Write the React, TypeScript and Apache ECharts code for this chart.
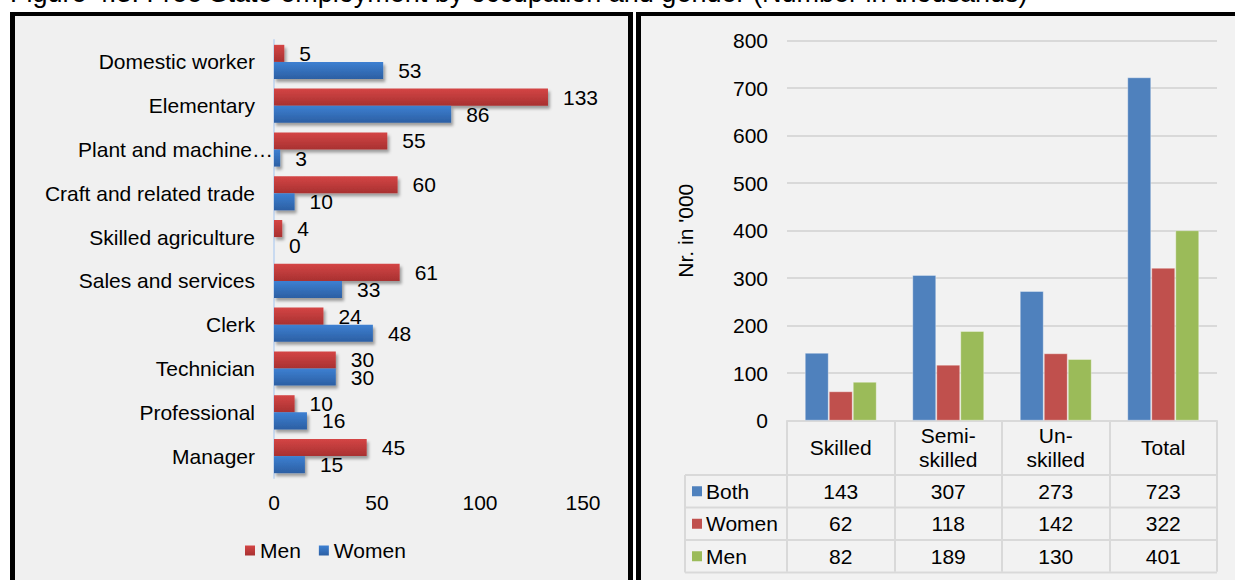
import React, { useEffect, useRef } from "react";
import * as echarts from "echarts";

const FONT = "'Liberation Sans', Arial, Helvetica, sans-serif";

const titleText = "Figure 4.3: Free State employment by occupation and gender (Number in thousands)";

// Left chart (top to bottom as shown)
const occupations = [
  "Domestic worker",
  "Elementary",
  "Plant and machine…",
  "Craft and related trade",
  "Skilled agriculture",
  "Sales and services",
  "Clerk",
  "Technician",
  "Professional",
  "Manager",
];
const menByOccupation = [5, 133, 55, 60, 4, 61, 24, 30, 10, 45];
const womenByOccupation = [53, 86, 3, 10, 0, 33, 48, 30, 16, 15];
const occupationSeriesNames = ["Men", "Women"];

// Right chart
const skillCategories = ["Skilled", "Semi-\nskilled", "Un-\nskilled", "Total"];
const skillSeriesNames = ["Both", "Women", "Men"];
const bothBySkill = [143, 307, 273, 723];
const womenBySkill = [62, 118, 142, 322];
const menBySkill = [82, 189, 130, 401];
const skillColors = ["#4f81bd", "#c0504d", "#9bbb59"];

export default function App() {
  const leftRef = useRef<HTMLDivElement>(null);
  const rightRef = useRef<HTMLDivElement>(null);

  useEffect(() => {
    const left = echarts.init(leftRef.current!, null, { renderer: "svg" });
    const right = echarts.init(rightRef.current!, null, { renderer: "svg" });

    const redGrad = new echarts.graphic.LinearGradient(0, 0, 0, 1, [
      { offset: 0, color: "#d44545" },
      { offset: 1, color: "#a83131" },
    ]);
    const blueGrad = new echarts.graphic.LinearGradient(0, 0, 0, 1, [
      { offset: 0, color: "#3d80d2" },
      { offset: 1, color: "#2c5fa3" },
    ]);
    const shadow = {
      shadowBlur: 3,
      shadowOffsetX: 2,
      shadowOffsetY: 3,
      shadowColor: "rgba(0,0,0,0.35)",
    };
    const barLabel = {
      show: true,
      position: "right",
      distance: 15,
      fontSize: 21,
      color: "#000",
      fontFamily: FONT,
    };

    left.setOption({
      animation: false,
      textStyle: { fontFamily: FONT },
      grid: { left: 274, top: 40, width: 309, height: 438, containLabel: false },
      xAxis: {
        type: "value",
        min: 0,
        max: 150,
        interval: 50,
        axisLine: { show: false },
        axisTick: { show: false },
        splitLine: { show: false },
        axisLabel: { fontSize: 21, color: "#000", margin: 14, fontFamily: FONT },
      },
      yAxis: {
        type: "category",
        data: occupations.slice().reverse(),
        axisLine: { show: true, lineStyle: { color: "#c9daf0", width: 2 } },
        axisTick: { show: false },
        axisLabel: {
          fontSize: 21,
          color: "#000",
          margin: 1,
          fontFamily: FONT,
          formatter: (v: string) => (v.endsWith("…") ? v : v + "{s| }"),
          rich: { s: { width: 18, fontSize: 21 } },
        },
      },
      legend: {
        data: occupationSeriesNames,
        left: 240,
        top: 535,
        icon: "rect",
        itemWidth: 10,
        itemHeight: 10,
        itemGap: 18,
        textStyle: { fontSize: 21, color: "#000", fontFamily: FONT },
      },
      series: [
        {
          name: occupationSeriesNames[0],
          type: "bar",
          data: menByOccupation.slice().reverse(),
          barGap: "0%",
          barCategoryGap: "22%",
          itemStyle: { color: redGrad, ...shadow },
          label: barLabel,
        },
        {
          name: occupationSeriesNames[1],
          type: "bar",
          data: womenByOccupation.slice().reverse(),
          barGap: "0%",
          barCategoryGap: "22%",
          itemStyle: { color: blueGrad, ...shadow },
          label: barLabel,
        },
      ],
    });

    const skillData = [bothBySkill, womenBySkill, menBySkill];
    const headerBottom = 475;
    const rowH = 32.5;
    const tableLeft = 685;
    const tableRight = 1217;
    const lineColor = "#d9d9d9";

    right.setOption({
      animation: false,
      textStyle: { fontFamily: FONT },
      grid: { left: 787, right: 18, top: 40.7, bottom: 580 - 420.7, containLabel: false },
      xAxis: {
        type: "category",
        data: skillCategories,
        axisLine: { show: true, lineStyle: { color: lineColor, width: 2 } },
        axisTick: { show: true, length: 151, interval: 0, lineStyle: { color: lineColor, width: 2 } },
        axisLabel: {
          fontSize: 21,
          color: "#000",
          margin: 27,
          verticalAlign: "middle",
          lineHeight: 24,
          interval: 0,
          fontFamily: FONT,
        },
      },
      yAxis: {
        type: "value",
        min: 0,
        max: 800,
        interval: 100,
        axisLine: { show: false },
        axisTick: { show: false },
        splitLine: { show: true, lineStyle: { color: lineColor, width: 2 } },
        axisLabel: { fontSize: 21, color: "#000", margin: 19, fontFamily: FONT },
        name: "Nr. in '000",
        nameLocation: "middle",
        nameRotate: 90,
        nameGap: 91,
        nameTextStyle: { fontSize: 21, color: "#000", fontFamily: FONT },
      },
      series: skillSeriesNames.map((n, k) => ({
        name: n,
        type: "bar",
        data: skillData[k],
        barWidth: 24,
        barGap: "0%",
        itemStyle: { color: skillColors[k], borderColor: "rgba(255,255,255,0.35)", borderWidth: 1 },
      })),
    });

    const cx = skillCategories.map((_, i) => right.convertToPixel({ xAxisIndex: 0 }, i) as number);
    const graphics: any[] = [];
    for (let r = 0; r <= skillSeriesNames.length; r++) {
      const y = headerBottom + r * rowH;
      graphics.push({
        type: "line",
        shape: { x1: tableLeft, y1: y, x2: tableRight, y2: y },
        style: { stroke: lineColor, lineWidth: 2 },
      });
    }
    graphics.push({
      type: "line",
      shape: { x1: tableLeft, y1: headerBottom, x2: tableLeft, y2: headerBottom + 3 * rowH },
      style: { stroke: lineColor, lineWidth: 2 },
    });
    skillSeriesNames.forEach((n, r) => {
      const yc = headerBottom + (r + 0.5) * rowH;
      graphics.push({
        type: "rect",
        shape: { x: 692, y: yc - 5, width: 10, height: 10 },
        style: { fill: skillColors[r] },
      });
      graphics.push({
        type: "text",
        x: 706,
        y: yc,
        style: { text: n, fontSize: 21, fill: "#000", fontFamily: FONT, verticalAlign: "middle", align: "left" },
      });
      skillData[r].forEach((v, i) => {
        graphics.push({
          type: "text",
          x: cx[i],
          y: yc,
          style: { text: String(v), fontSize: 21, fill: "#000", fontFamily: FONT, verticalAlign: "middle", align: "center" },
        });
      });
    });
    right.setOption({ graphic: graphics });

    return () => {
      left.dispose();
      right.dispose();
    };
  }, []);

  return (
    <div style={{ position: "fixed", left: 0, top: 0, width: 1235, height: 580, background: "#fff", overflow: "hidden" }}>
      <div
        style={{
          position: "absolute",
          left: 10,
          top: -20,
          fontFamily: FONT,
          fontSize: 27,
          lineHeight: "27px",
          whiteSpace: "nowrap",
          color: "#000",
        }}
      >
        {titleText}
      </div>
      <div
        style={{
          position: "absolute",
          left: 10,
          top: 12,
          width: 623,
          height: 620,
          boxSizing: "border-box",
          border: "5px solid #000",
          borderTopWidth: 4,
          background: "#f0f0f0",
        }}
      />
      <div
        style={{
          position: "absolute",
          left: 636,
          top: 12,
          width: 700,
          height: 620,
          boxSizing: "border-box",
          border: "5px solid #000",
          borderTopWidth: 4,
          background: "#f2f2f2",
        }}
      />
      <div ref={leftRef} style={{ position: "absolute", left: 0, top: 0, width: 1235, height: 580 }} />
      <div ref={rightRef} style={{ position: "absolute", left: 0, top: 0, width: 1235, height: 580 }} />
    </div>
  );
}
